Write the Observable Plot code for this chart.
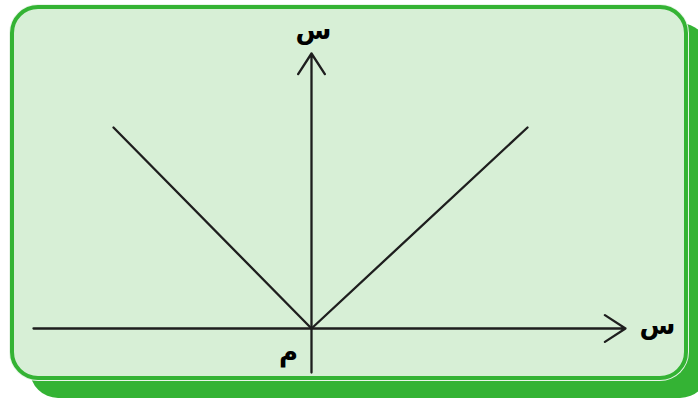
<!DOCTYPE html>
<html>
<head>
<meta charset="utf-8">
<script src="https://cdn.jsdelivr.net/npm/d3@7"></script>
<script src="https://cdn.jsdelivr.net/npm/@observablehq/plot@0.6"></script>
<style>
  html, body { margin: 0; padding: 0; background: #ffffff; }
  #wrap { position: relative; width: 698px; height: 400px; overflow: hidden; }
  #card {
    position: absolute; left: 10px; top: 5px; width: 670px; height: 367px;
    border: 4px solid #34b334; border-radius: 28px; background: #d7efd6;
    box-shadow: 0 0 0 1px #e8f5e8, 20px 18px 0 0 #34b334;
  }
  #chart { position: absolute; left: 0; top: 0; }
</style>
</head>
<body>
<div id="wrap"><div id="card"></div><div id="chart"></div></div>
<script>
// The V-shaped graph (data units)
const vX = [-1.98, 0, 2.16];
const vY = [2.01, 0, 2.01];
// Axes (start → arrow tip)
const axisX1 = [-2.78, 0];
const axisY1 = [0, -0.44];
const axisX2 = [3.14, 0];
const axisY2 = [0, 2.75];
// Axis labels
const labelText = ["س", "س", "م"];
const labelX = [3.46, 0.02, -0.23];
const labelY = [0.03, 2.98, -0.24];

const vData = vX.map((x, i) => ({x, y: vY[i]}));
const axes = axisX1.map((x1, i) => ({x1, y1: axisY1[i], x2: axisX2[i], y2: axisY2[i]}));
const labels = labelText.map((t, i) => ({t, x: labelX[i], y: labelY[i]}));

const chart = Plot.plot({
  width: 698,
  height: 400,
  margin: 0,
  style: {background: "transparent"},
  x: {domain: [-3.11, 3.87], axis: null},
  y: {domain: [-0.72, 3.28], axis: null},
  marks: [
    Plot.arrow(axes, {x1: "x1", y1: "y1", x2: "x2", y2: "y2", stroke: "#1e1e1e", strokeWidth: 2.3, headLength: 16, headAngle: 66}),
    Plot.line(vData, {x: "x", y: "y", stroke: "#1e1e1e", strokeWidth: 2.3}),
    Plot.text(labels, {x: "x", y: "y", text: "t", fontSize: 26, fontWeight: "bold", fill: "#000", fontFamily: "DejaVu Sans"})
  ]
});
document.getElementById("chart").appendChild(chart);
</script>
</body>
</html>
